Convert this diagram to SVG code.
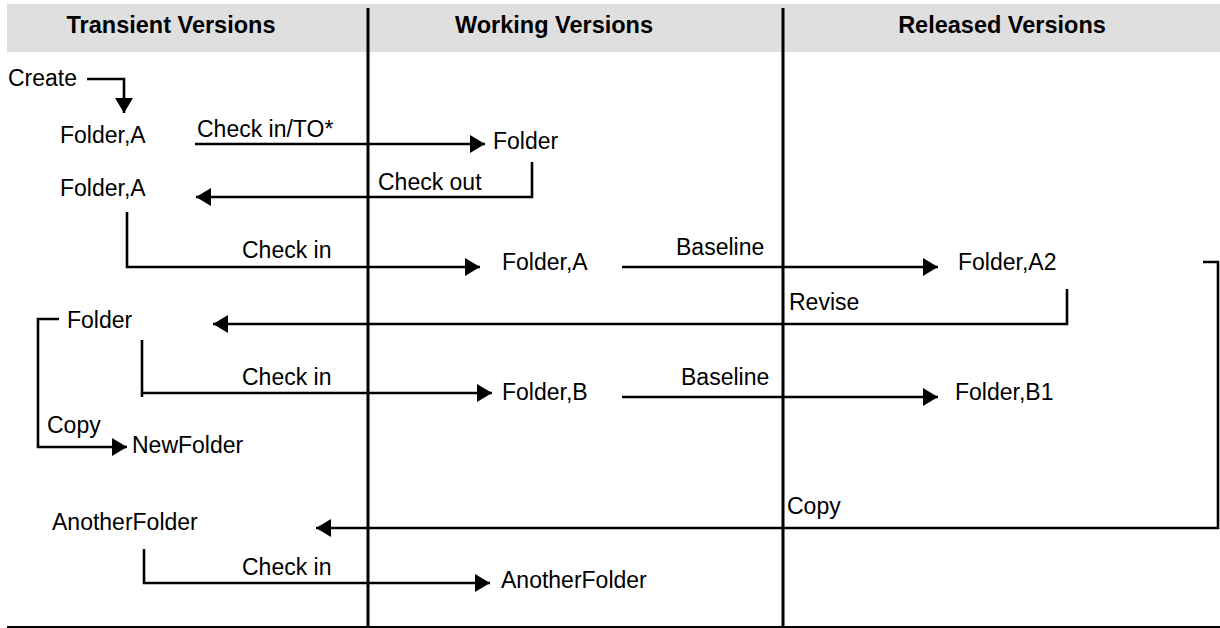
<svg xmlns="http://www.w3.org/2000/svg" width="1220" height="628" viewBox="0 0 1220 628">
  <style>
    text { font-family: "Liberation Sans", Arial, sans-serif; font-size: 23px; fill: #000; }
    .hdr { font-weight: bold; font-size: 23.5px; text-anchor: middle; }
    .conn { fill: none; stroke: #000; stroke-width: 2.6; }
    .col { stroke: #000; stroke-width: 3; }
  </style>
  <defs>
    <marker id="arr" markerUnits="userSpaceOnUse" markerWidth="16" markerHeight="18" refX="15" refY="9" orient="auto" viewBox="0 0 16 18">
      <path d="M0,0 L15,9 L0,18 z" fill="#000"/>
    </marker>
  </defs>

  <g id="header">
    <rect x="7" y="4" width="1213" height="48" fill="#dfdfdf"/>
    <text class="hdr" x="171" y="33">Transient Versions</text>
    <text class="hdr" x="554" y="33">Working Versions</text>
    <text class="hdr" x="1002" y="33">Released Versions</text>
  </g>

  <g id="lanes">
    <line class="col" x1="368" y1="8" x2="368" y2="628"/>
    <line class="col" x1="783" y1="8" x2="783" y2="628"/>
    <line x1="7" y1="627" x2="1220" y2="627" stroke="#000" stroke-width="2"/>
  </g>

  <g id="connectors">
    <path class="conn" d="M87,79 H124 V113" marker-end="url(#arr)"/>
    <path class="conn" d="M195,144 H485" marker-end="url(#arr)"/>
    <path class="conn" d="M532,162 V197 H196" marker-end="url(#arr)"/>
    <path class="conn" d="M127,212 V267 H480" marker-end="url(#arr)"/>
    <path class="conn" d="M622,267 H938" marker-end="url(#arr)"/>
    <path class="conn" d="M1067,289 V324 H213" marker-end="url(#arr)"/>
    <path class="conn" d="M142,340 V397"/>
    <path class="conn" d="M142,393 H492" marker-end="url(#arr)"/>
    <path class="conn" d="M622,397 H938" marker-end="url(#arr)"/>
    <path class="conn" d="M59,319 H38 V447 H127" marker-end="url(#arr)"/>
    <path class="conn" d="M1203,262 H1218 V528 H316" marker-end="url(#arr)"/>
    <path class="conn" d="M144,549 V583 H490" marker-end="url(#arr)"/>
  </g>

  <g id="labels">
    <text x="197" y="137">Check in/TO*</text>
    <text x="378" y="190">Check out</text>
    <text x="242" y="258">Check in</text>
    <text x="676" y="255">Baseline</text>
    <text x="789" y="310">Revise</text>
    <text x="242" y="385">Check in</text>
    <text x="681" y="385">Baseline</text>
    <text x="47" y="433">Copy</text>
    <text x="787" y="514">Copy</text>
    <text x="242" y="575">Check in</text>
  </g>

  <g id="node-create"><text x="8" y="86">Create</text></g>
  <g id="node-folderA-t1"><text x="60" y="143">Folder,A</text></g>
  <g id="node-folder-w"><text x="493" y="149">Folder</text></g>
  <g id="node-folderA-t2"><text x="60" y="196">Folder,A</text></g>
  <g id="node-folderA-w"><text x="502" y="270">Folder,A</text></g>
  <g id="node-folderA2-r"><text x="958" y="270">Folder,A2</text></g>
  <g id="node-folder-t"><text x="67" y="328">Folder</text></g>
  <g id="node-folderB-w"><text x="502" y="400">Folder,B</text></g>
  <g id="node-folderB1-r"><text x="955" y="400">Folder,B1</text></g>
  <g id="node-newfolder-t"><text x="132" y="453">NewFolder</text></g>
  <g id="node-anotherfolder-t"><text x="52" y="530">AnotherFolder</text></g>
  <g id="node-anotherfolder-w"><text x="501" y="588">AnotherFolder</text></g>
</svg>
